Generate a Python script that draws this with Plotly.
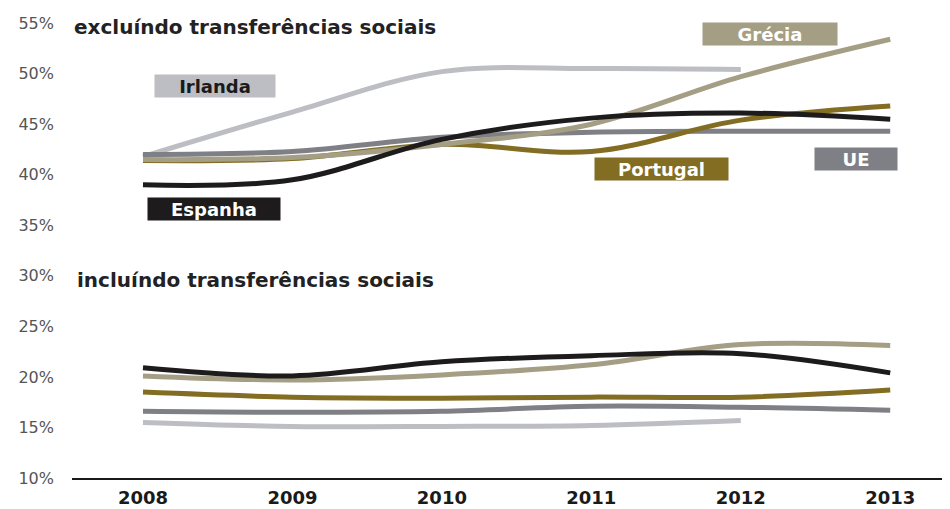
import plotly.graph_objects as go

years = [2008, 2009, 2010, 2011, 2012, 2013]
years_irl = [2008, 2009, 2010, 2011, 2012]

# excluindo transferencias sociais
excl_irlanda = [41.8, 46.2, 50.2, 50.5, 50.4]
excl_grecia = [41.5, 41.7, 43.0, 45.0, 49.7, 53.4]
excl_espanha = [39.0, 39.5, 43.5, 45.6, 46.1, 45.5]
excl_portugal = [41.4, 41.6, 43.0, 42.3, 45.4, 46.8]
excl_ue = [42.0, 42.3, 43.7, 44.2, 44.3, 44.3]

# incluindo transferencias sociais
incl_irlanda = [15.5, 15.1, 15.1, 15.2, 15.7]
incl_grecia = [20.1, 19.7, 20.2, 21.2, 23.2, 23.1]
incl_espanha = [20.9, 20.1, 21.5, 22.1, 22.3, 20.4]
incl_portugal = [18.5, 18.0, 17.9, 18.0, 18.0, 18.7]
incl_ue = [16.6, 16.5, 16.6, 17.1, 17.0, 16.7]

tick_vals = [10, 15, 20, 25, 30, 35, 40, 45, 50, 55]
tick_text = ["10%", "15%", "20%", "25%", "30%", "35%", "40%", "45%", "50%", "55%"]

C_IRL = "#BDBEC3"
C_GRE = "#A49E84"
C_ESP = "#1D1B1B"
C_POR = "#826D22"
C_UE = "#7F8085"

fig = go.Figure()

series = [
    (years_irl, excl_irlanda, C_IRL, "Irlanda"),
    (years_irl, incl_irlanda, C_IRL, "Irlanda"),
    (years, excl_ue, C_UE, "UE"),
    (years, incl_ue, C_UE, "UE"),
    (years, excl_portugal, C_POR, "Portugal"),
    (years, incl_portugal, C_POR, "Portugal"),
    (years, excl_grecia, C_GRE, "Grécia"),
    (years, incl_grecia, C_GRE, "Grécia"),
    (years, excl_espanha, C_ESP, "Espanha"),
    (years, incl_espanha, C_ESP, "Espanha"),
]
for xs, ys, col, name in series:
    fig.add_trace(go.Scatter(
        x=xs, y=ys, mode="lines", name=name, showlegend=False,
        line=dict(color=col, width=5, shape="spline", smoothing=1.0),
    ))

# label boxes
labels = [
    ("Irlanda", 2008.48, 48.8, 120, C_IRL, "#1a1a1a"),
    ("Espanha", 2008.475, 36.6, 132, C_ESP, "white"),
    ("Grécia", 2012.197, 53.97, 134, C_GRE, "white"),
    ("Portugal", 2011.467, 40.61, 133, C_POR, "white"),
    ("UE", 2012.773, 41.55, 82, C_UE, "white"),
]
for txt, x, y, w, bg, fc in labels:
    fig.add_annotation(
        x=x, y=y, xref="x", yref="y", text="<b>%s</b>" % txt, showarrow=False,
        width=w, height=22, bgcolor=bg, borderpad=0,
        font=dict(family="DejaVu Sans", size=18, color=fc),
        xanchor="center", yanchor="middle", align="center",
    )

fig.add_annotation(
    x=0, y=54.6, xref="paper", yref="y", text="<b>excluíndo transferências sociais</b>",
    showarrow=False, xanchor="left", yanchor="middle",
    font=dict(family="DejaVu Sans", size=20, color="#222222"),
)
fig.add_annotation(
    x=0.003, y=29.6, xref="paper", yref="y", text="<b>incluíndo transferências sociais</b>",
    showarrow=False, xanchor="left", yanchor="middle",
    font=dict(family="DejaVu Sans", size=20, color="#222222"),
)

fig.update_layout(
    width=942, height=501,
    margin=dict(l=64, r=0, t=5, b=31),
    paper_bgcolor="white", plot_bgcolor="white",
    xaxis=dict(
        range=[2007.525, 2013.40], tickmode="array", tickvals=years,
        ticktext=["<b>%d</b>" % y for y in years],
        showgrid=False, zeroline=False, showline=True, linecolor="#1a1a1a", linewidth=2,
        ticks="", tickfont=dict(family="DejaVu Sans", size=18, color="#1a1a1a"),
        ticklabelstandoff=2,
    ),
    yaxis=dict(
        range=[10, 56], tickmode="array", tickvals=tick_vals, ticktext=tick_text,
        showgrid=False, zeroline=False, showline=False, ticks="",
        tickfont=dict(family="DejaVu Sans", size=16, color="#555555"),
        ticklabelstandoff=17,
    ),
)

fig.write_html("out.html")
